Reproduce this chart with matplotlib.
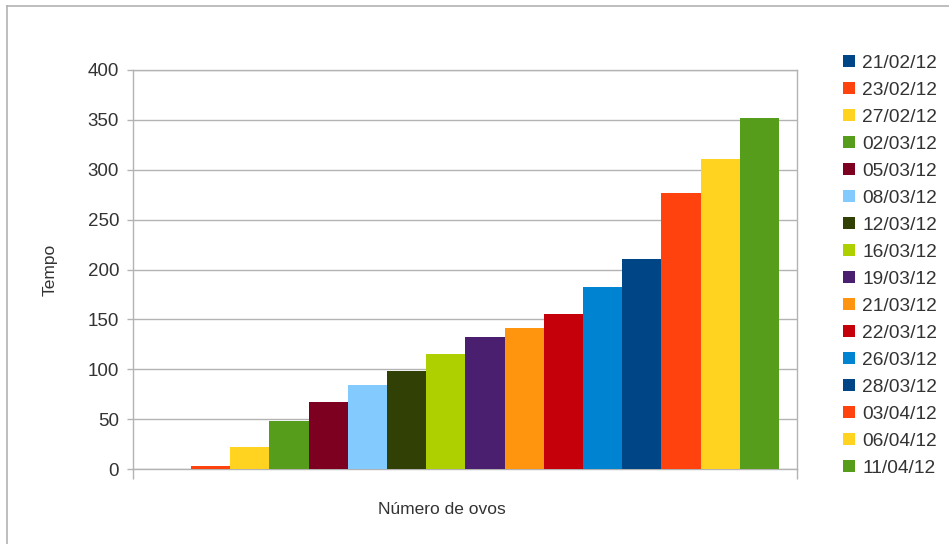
import matplotlib
matplotlib.use("Agg")
import matplotlib.pyplot as plt
from matplotlib.patches import Patch
from matplotlib.lines import Line2D

plt.rcParams['font.family'] = ['Liberation Sans', 'DejaVu Sans']

# dados
datas = ['21/02/12', '23/02/12', '27/02/12', '02/03/12', '05/03/12', '08/03/12',
         '12/03/12', '16/03/12', '19/03/12', '21/03/12', '22/03/12', '26/03/12',
         '28/03/12', '03/04/12', '06/04/12', '11/04/12']
tempos = [0, 3, 22, 48, 67, 84, 98, 115, 132, 141, 155, 182, 211, 277, 311, 352]
cores = ['#004586', '#ff420e', '#ffd320', '#579d1c', '#7e0021', '#83caff',
         '#314004', '#aecf00', '#4b1f6f', '#ff950e', '#c5000b', '#0084d1',
         '#004586', '#ff420e', '#ffd320', '#579d1c']
yticks = [0, 50, 100, 150, 200, 250, 300, 350, 400]

cinza = '#b3b3b3'
texto = '#333333'

fig = plt.figure(figsize=(9.49, 5.44), dpi=100)
ax = fig.add_axes([133 / 949, 1 - 469 / 544, 664 / 949, 399 / 544])

posicoes = list(range(len(tempos)))
ax.bar(posicoes, tempos, width=1.0, color=cores, linewidth=0, zorder=3)

ax.set_xlim(-0.98, 15.96)
ax.set_ylim(0, 400)
ax.set_yticks(yticks)
ax.set_yticklabels([str(v) for v in yticks])
ax.set_xticks([-0.98, 15.96])
ax.set_xticklabels(['', ''])
ax.tick_params(axis='y', direction='out', length=4, width=1, color=cinza,
               labelsize=13.5, labelcolor=texto, pad=6)
ax.tick_params(axis='x', direction='out', length=7, width=1, color=cinza)
ax.yaxis.grid(True, color=cinza, linewidth=1, zorder=0)
for lado in ['left', 'right', 'top', 'bottom']:
    ax.spines[lado].set_color(cinza)
    ax.spines[lado].set_linewidth(1)

fig.text(50 / 949, 1 - 270 / 544, 'Tempo', rotation=90, ha='center', va='center',
         fontsize=12.5, color=texto)
fig.text(442 / 949, 1 - 509 / 544, 'Número de ovos', ha='center', va='center',
         fontsize=12.5, color=texto)

# legenda
alcas = [Patch(facecolor=c, edgecolor='none') for c in cores]
fig.legend(alcas, datas, loc='upper left', bbox_to_anchor=(843 / 949, 1 - 55 / 544),
           frameon=False, fontsize=13.8, labelcolor=texto, handlelength=0.6,
           handleheight=0.6, handletextpad=0.4, labelspacing=0.52, borderpad=0,
           borderaxespad=0)

# moldura externa
fig.add_artist(Line2D([7 / 949, 1], [1 - 6 / 544, 1 - 6 / 544], color=cinza, linewidth=1.2))
fig.add_artist(Line2D([7 / 949, 7 / 949], [0, 1 - 6 / 544], color=cinza, linewidth=1.2))

fig.savefig('out.png', dpi=100)
